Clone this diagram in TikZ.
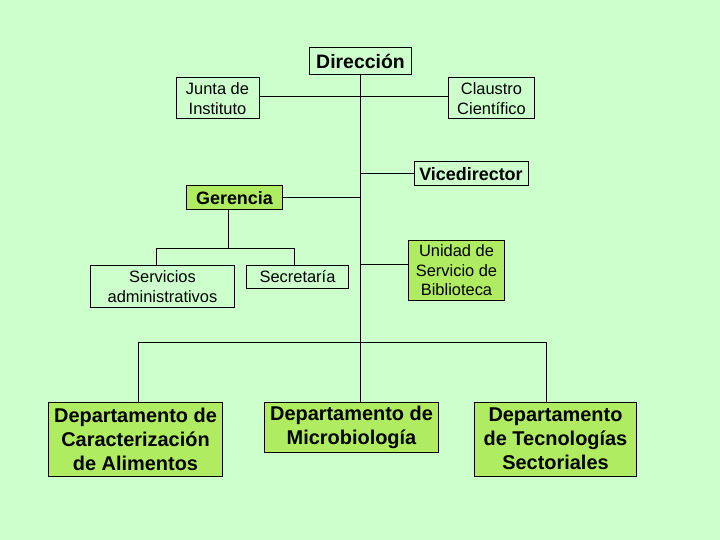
\documentclass[tikz,border=0pt]{standalone}
\usepackage{fontspec}
\setmainfont{Liberation Sans}
\usetikzlibrary{calc,positioning}

\definecolor{fondo}{RGB}{204,255,204}
\definecolor{verde}{RGB}{176,236,98}

\begin{document}
\begin{tikzpicture}[
    x=1bp, y=-1bp,
    line width=1bp,
    blk/.style={draw=black, line width=1bp, align=center, inner sep=0pt},
    blkv/.style={blk, fill=verde},
    chico/.style={font=\fontsize{16.5}{19.5}\selectfont},
    negr/.style={font=\bfseries\fontsize{18}{21}\selectfont},
    grande/.style={font=\bfseries\fontsize{20}{24}\selectfont}
  ]
  \useasboundingbox[fill=fondo] (0,0) rectangle (720,540);

  % Dirección (arriba al centro)
  \node[blk, font=\bfseries\fontsize{19.5}{22}\selectfont, minimum width=102bp, minimum height=27bp] (dir) at (360.5,61.5) {Dirección};

  % Órganos colegiados a los lados
  \node[blk, chico, minimum width=83bp, minimum height=41bp] (junta) at (217.5,98.5) {Junta de\\Instituto};
  \node[blk, chico, minimum width=86bp, minimum height=41bp] (claustro) at (491.5,98.5) {Claustro\\Científico};

  % Vicedirector y Gerencia
  \node[blk, negr, minimum width=114bp, minimum height=24bp] (vice) at (471,174) {Vicedirector};
  \node[blkv, negr, minimum width=96bp, minimum height=24bp] (ger) at (234.5,198) {Gerencia};

  % Dependencias de Gerencia
  \node[blk, chico, minimum width=144bp, minimum height=41bp] (serv) at (162.5,286.5) {Servicios\\administrativos};
  \node[blk, chico, minimum width=102bp, minimum height=22bp] (secr) at (297.5,277) {Secretaría};

  % Biblioteca
  \node[blkv, chico, minimum width=96bp, minimum height=60bp] (bibl) at (456.5,270.5) {Unidad de\\Servicio de\\Biblioteca};

  % Departamentos (abajo)
  \node[blkv, grande, minimum width=174bp, minimum height=74bp] (dep1) at (135.5,439) {Departamento de\\Caracterización\\de Alimentos};
  \node[blkv, grande, minimum width=174bp, minimum height=50bp] (dep2) at (351.5,427) {Departamento de\\Microbiología};
  \node[blkv, grande, minimum width=162bp, minimum height=74bp] (dep3) at (555.5,439) {Departamento\\de Tecnologías\\Sectoriales};

  % Puntos de unión
  \coordinate (barra) at (360.5,342.5);
  \coordinate (rama) at (228.5,248.5);

  % Conexiones
  \draw (dir.south) -- (dir.south |- dep2.north);
  \draw (junta.east |- 0,96.5) -- (claustro.west |- 0,96.5);
  \draw (vice.west) -- (vice.west -| dir.south);
  \draw (ger.east) -- (ger.east -| dir.south);
  \draw (bibl.west |- 0,264.5) -- (dir.south |- 0,264.5);
  \draw (ger.south -| rama) -- (rama);
  \draw ([xshift=-6bp]serv.north) |- (rama) -| ([xshift=-3bp]secr.north);
  \draw ([xshift=3bp]dep1.north) |- (barra) -| ([xshift=-9bp]dep3.north);

\end{tikzpicture}
\end{document}
